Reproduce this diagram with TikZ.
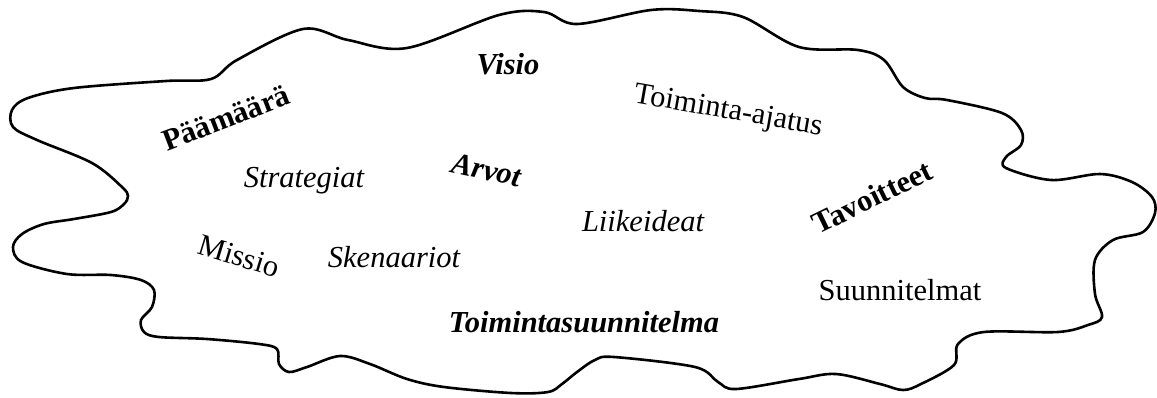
\documentclass[tikz,border=0pt]{standalone}
\usepackage{fontspec}
\setmainfont{Liberation Serif}

\begin{document}
\begin{tikzpicture}[
  x=1pt, y=-1pt,
  blob/.style={line width=2.6pt, line join=round},
  word/.style={inner sep=0pt, font=\fontsize{30.5}{36}\selectfont},
  wordit/.style={word, font=\fontsize{30.5}{36}\selectfont\itshape},
  wordbf/.style={word, font=\fontsize{30.5}{36}\selectfont\bfseries},
  wordbfit/.style={word, font=\fontsize{30.5}{36}\selectfont\bfseries\itshape},
]
  \useasboundingbox (0,0) rectangle (1157,397);

  % the cloud outline, clockwise from the left
  \draw[blob] plot[smooth cycle, tension=0.55] coordinates {
    (13,247) (22,234) (44,224) (74,219) (111,212) (124,204) (128,196)
    (122,187) (92,163) (37,140) (13,127) (12,110) (28,98) (74,88)
    (166,81) (211,79) (237,60) (303,29) (348,40) (407,48) (499,15)
    (544,12) (577,24) (651,10) (699,11) (743,17) (799,47) (858,50)
    (884,60) (903,87) (925,98) (947,100) (1002,113) (1021,130)
    (1021,145) (1006,157) (1006,168) (1051,180) (1100,174) (1132,182)
    (1152,197) (1155,213) (1143,232) (1113,240) (1095,260) (1095,294)
    (1102,317) (1088,325) (1058,332) (984,332) (958,344) (954,365)
    (921,384) (903,390) (880,384) (836,374) (799,379) (736,389)
    (718,382) (695,367) (614,357) (595,360) (577,372) (562,384)
    (548,392) (511,393) (444,387) (407,379) (370,364) (340,356)
    (307,367) (289,372) (279,364) (277,349) (259,344) (207,339)
    (159,337) (144,332) (141,320) (152,307) (154,290) (141,280)
    (111,275) (67,274) (22,262)};

  % words inside the cloud
  \node[wordbfit] (visio) at (508,64) {Visio};
  \node[wordbf, rotate=21] (paamaara) at (226,118) {Päämäärä};
  \node[word, rotate=-10] (ajatus) at (728,112) {Toiminta-ajatus};
  \node[wordit] (strategiat) at (304,181) {Strategiat};
  \node[wordbfit, rotate=-12] (arvot) at (487,170) {Arvot};
  \node[wordbf, rotate=26] (tavoitteet) at (872,197) {Tavoitteet};
  \node[wordit] (liikeideat) at (643,221) {Liikeideat};
  \node[word, rotate=-17] (missio) at (239,256) {Missio};
  \node[wordit] (skenaariot) at (394,257) {Skenaariot};
  \node[word] (suunnitelmat) at (900,290) {Suunnitelmat};
  \node[wordbfit] (tsuunnitelma) at (584,322) {Toimintasuunnitelma};
\end{tikzpicture}
\end{document}
